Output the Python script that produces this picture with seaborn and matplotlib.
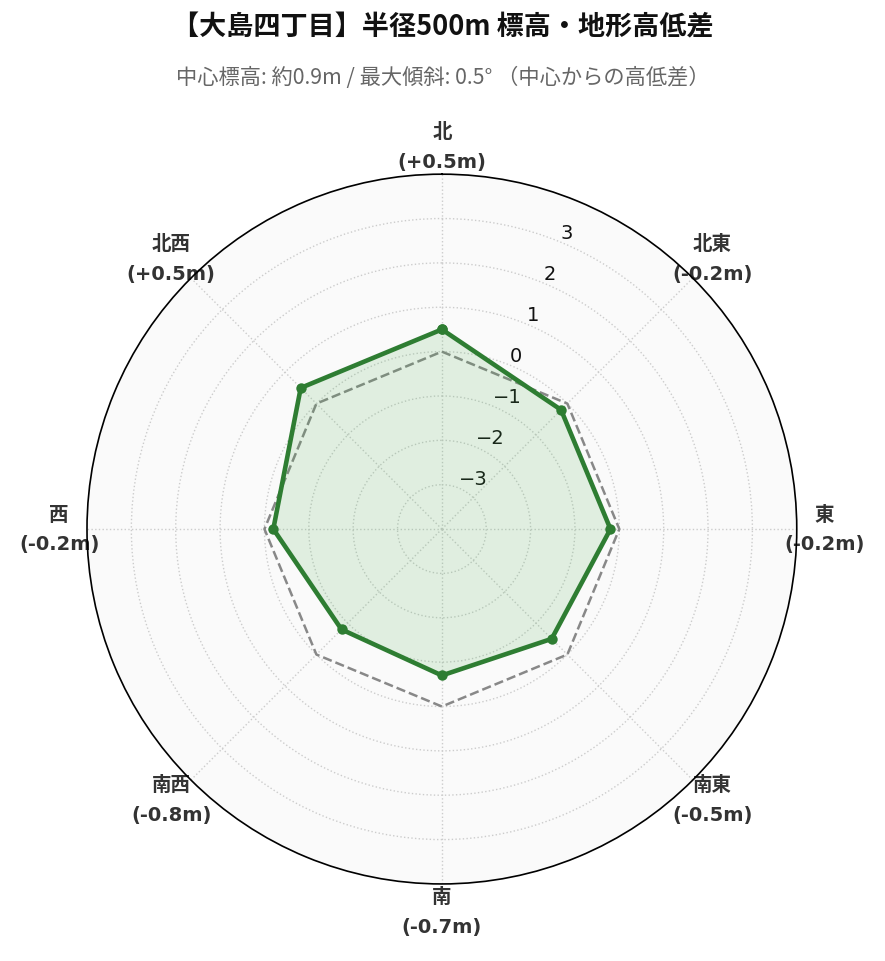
import numpy as np
import pandas as pd
import matplotlib
matplotlib.use('Agg')
import matplotlib.pyplot as plt
import seaborn as sns

# 方位と高低差 (m)
directions = ['北', '北東', '東', '南東', '南', '南西', '西', '北西']
diffs = [0.5, -0.2, -0.2, -0.5, -0.7, -0.8, -0.2, 0.5]
baseline = [0, 0, 0, 0, 0, 0, 0, 0]
r_ticks = [-3, -2, -1, 0, 1, 2, 3]

sns.set_theme(style='white')
plt.rcParams['font.family'] = ['DejaVu Sans', 'Noto Sans CJK JP']
plt.rcParams['axes.unicode_minus'] = True
cjk = ['Noto Sans CJK JP', 'DejaVu Sans']

angles = np.linspace(0, 2 * np.pi, len(directions), endpoint=False)
theta = np.append(angles, 2 * np.pi)
df = pd.DataFrame({'theta': theta,
                   'diff': diffs + diffs[:1],
                   'base': baseline + baseline[:1]})

fig = plt.figure(figsize=(8.85, 9.62), dpi=100)
ax = fig.add_axes([0.0983, 0.080, 0.802, 0.738], projection='polar')
ax.set_theta_zero_location('N')
ax.set_theta_direction(-1)
ax.set_facecolor('#fafafa')

sns.lineplot(data=df, x='theta', y='base', sort=False, ax=ax,
             color='#888888', linestyle='--', linewidth=1.8)
ax.fill(df['theta'], df['diff'], color='#4caf50', alpha=0.15, zorder=2)
sns.lineplot(data=df, x='theta', y='diff', sort=False, ax=ax,
             color='#2e7d32', linewidth=3.3, marker='o', markersize=7.5,
             markeredgewidth=0)

ax.set_ylim(-4, 4)
ax.set_yticks(r_ticks)
ax.set_yticklabels([str(t).replace('-', '\u2212') for t in r_ticks],
                   fontsize=14, color='#111111')
ax.set_rlabel_position(22.5)
ax.set_xticks(angles)
labels = [f'{d}\n({v:+.1f}m)' for d, v in zip(directions, diffs)]
ax.set_xticklabels(labels, fontsize=14, fontweight='bold', color='#333333',
                   linespacing=1.7)
ax.tick_params(axis='x', pad=7)
ax.grid(True, color='#cccccc', linestyle=':', linewidth=1)
ax.spines['polar'].set_color('black')
ax.spines['polar'].set_linewidth(1.2)
ax.set_xlabel('')
ax.set_ylabel('')

fig.text(0.5, 0.971, '【大島四丁目】半径500m 標高・地形高低差', ha='center', va='center',
         fontsize=19.5, fontweight='bold', color='#111111', family=cjk)
fig.text(0.5, 0.919, '中心標高: 約0.9m / 最大傾斜: 0.5° （中心からの高低差）',
         ha='center', va='center', fontsize=15.3, color='#666666', family=cjk)

fig.savefig('out.png', dpi=100)
